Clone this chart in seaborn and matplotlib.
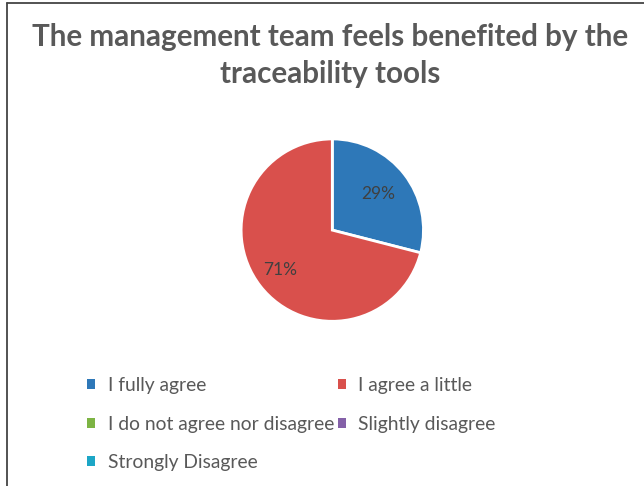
import matplotlib
matplotlib.use("Agg")
import matplotlib.pyplot as plt
import seaborn as sns
from matplotlib.patches import Patch
from matplotlib.lines import Line2D

categories = [
    "I fully agree",
    "I agree a little",
    "I do not agree nor disagree",
    "Slightly disagree",
    "Strongly Disagree",
]
shares = [29, 71, 0, 0, 0]
colors = ["#2E78B8", "#D9504C", "#7DB444", "#8461A8", "#1CA6C6"]

sns.set_theme(style="white")
plt.rcParams["font.family"] = ["Lato", "DejaVu Sans"]

fig = plt.figure(figsize=(6.44, 4.86), dpi=100)
ax = fig.add_axes([0.373, 0.337, 0.286, 0.379])

vals = [v for v in shares if v > 0]
cols = [c for v, c in zip(shares, colors) if v > 0]
wedges, texts, autotexts = ax.pie(
    vals, colors=cols, startangle=90, counterclock=False,
    autopct="%1.0f%%", pctdistance=0.64,
    wedgeprops=dict(edgecolor="white", linewidth=2),
    textprops=dict(color="#404040", fontsize=12.5),
)
# the larger slice label sits a bit further out
x, y = autotexts[1].get_position()
autotexts[1].set_position((x * 0.72 / 0.64, y * 0.72 / 0.64))
ax.set_xlim(-1.01, 1.01)
ax.set_ylim(-1.01, 1.01)
ax.set_aspect("equal")

fig.text(0.512, 0.886, "The management team feels benefited by the\ntraceability tools",
         ha="center", va="center", fontsize=21.3, fontweight="bold",
         color="#595959", linespacing=1.4)

handles = [Patch(facecolor=c, edgecolor="none") for c in colors]
order = [0, 2, 4, 1, 3]
leg = fig.legend([handles[i] for i in order], [categories[i] for i in order],
                 ncol=2, loc="upper left", bbox_to_anchor=(0.108, 0.26),
                 frameon=False, fontsize=13.9, labelcolor="#595959",
                 handlelength=0.42, handleheight=0.42, handletextpad=0.65,
                 columnspacing=0.2, labelspacing=1.12)

# border lines (top and left) as in the cropped screenshot
fig.add_artist(Line2D([0.011, 1.0], [0.994, 0.994], transform=fig.transFigure,
                      color="#444444", linewidth=1.3))
fig.add_artist(Line2D([0.011, 0.011], [0.0, 0.994], transform=fig.transFigure,
                      color="#444444", linewidth=1.3))

fig.savefig("out.png", dpi=100)
